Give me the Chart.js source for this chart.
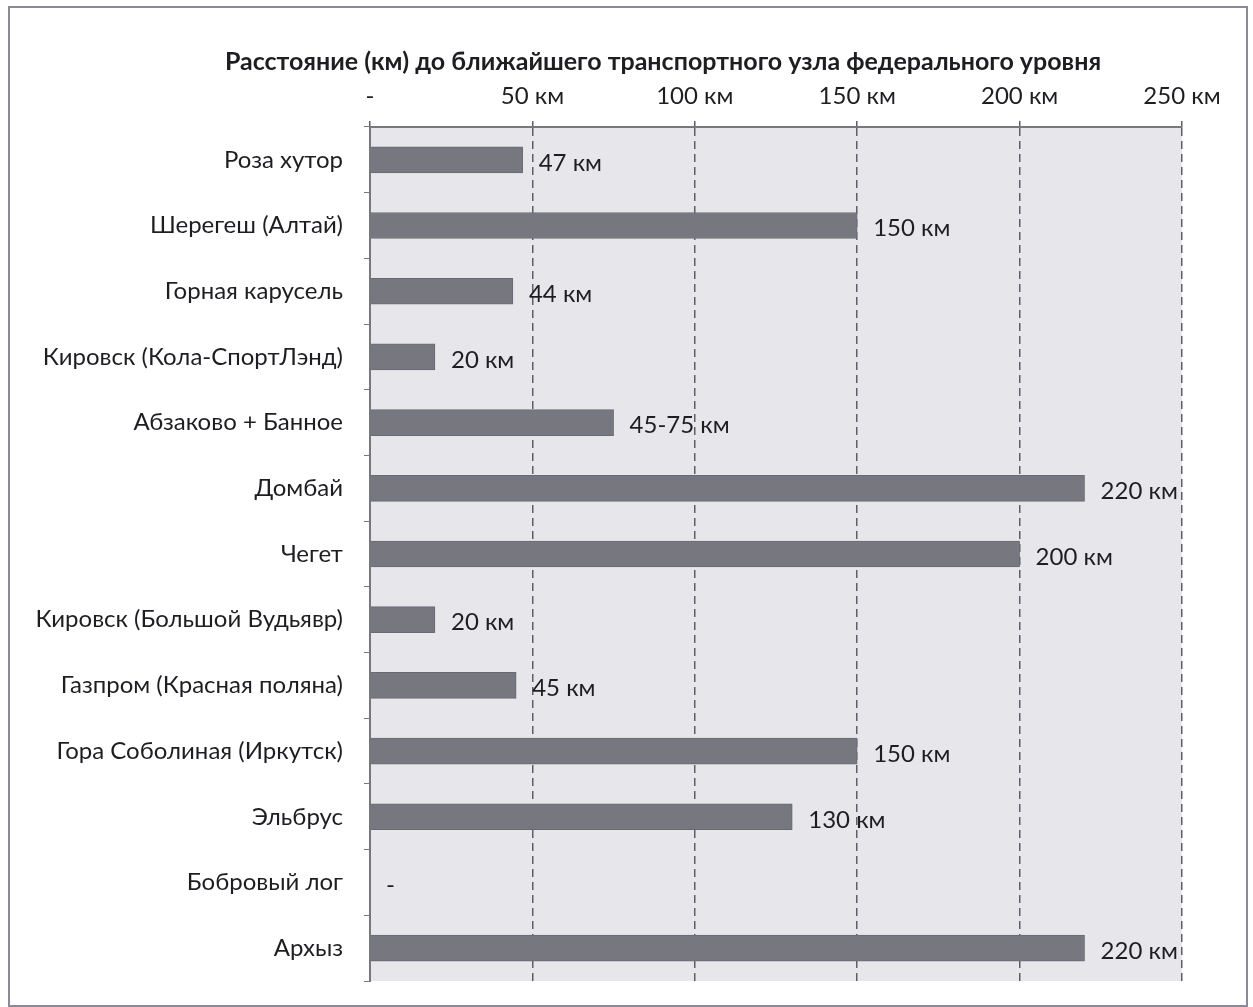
<!DOCTYPE html>
<html>
<head>
<meta charset="utf-8">
<script src="https://cdn.jsdelivr.net/npm/chart.js@4.4.0/dist/chart.umd.min.js"></script>
<style>
  body { margin: 0; background: #fff; }
  #wrap { position: relative; width: 1253px; height: 1007px; }
  #frame { position: absolute; left: 8px; top: 6px; width: 1236px; height: 997px;
           border: 2px solid #8a8a96; pointer-events: none; }
</style>
</head>
<body>
<div id="wrap">
  <canvas id="grafico" width="1253" height="1007"></canvas>
  <div id="frame"></div>
</div>
<script>
const kurorty = [
  'Роза хутор', 'Шерегеш (Алтай)', 'Горная карусель', 'Кировск (Кола-СпортЛэнд)',
  'Абзаково + Банное', 'Домбай', 'Чегет', 'Кировск (Большой Вудьявр)',
  'Газпром (Красная поляна)', 'Гора Соболиная (Иркутск)', 'Эльбрус', 'Бобровый лог', 'Архыз'
]
const rasstoyanie = [47, 150, 44, 20, 75, 220, 200, 20, 45, 150, 130, 0, 220]
const podpisi = ['47 км', '150 км', '44 км', '20 км', '45-75 км', '220 км', '200 км',
  '20 км', '45 км', '150 км', '130 км', '-', '220 км']
const zagolovok = 'Расстояние (км) до ближайшего транспортного узла федерального уровня'
const shagOsi = 50
const maxOsi = 250

const shrift = 'Lato, "Open Sans", sans-serif'

// фон области графика
const fonPlugin = {
  id: 'fon',
  beforeDraw(chart) {
    const a = chart.chartArea
    const ctx = chart.ctx
    ctx.save()
    ctx.fillStyle = '#e7e7eb'
    ctx.fillRect(a.left, a.top, a.right - a.left, a.bottom - a.top)
    ctx.restore()
  }
}

// заголовок (сдвинут вправо, как в оригинале)
const zagolovokPlugin = {
  id: 'zagolovok',
  afterDraw(chart) {
    const ctx = chart.ctx
    ctx.save()
    ctx.font = 'bold 25px ' + shrift
    ctx.fillStyle = '#1e1e22'
    ctx.textAlign = 'center'
    ctx.textBaseline = 'middle'
    ctx.fillText(zagolovok, 663, 62)
    ctx.restore()
  }
}

// подписи значений справа от столбцов
const podpisiPlugin = {
  id: 'podpisi',
  afterDatasetsDraw(chart) {
    const ctx = chart.ctx
    const meta = chart.getDatasetMeta(0)
    ctx.save()
    ctx.font = '24px ' + shrift
    ctx.fillStyle = '#1e1e22'
    ctx.textBaseline = 'middle'
    ctx.textAlign = 'left'
    meta.data.forEach((bar, i) => {
      ctx.fillText(podpisi[i], bar.x + 16, bar.y + 3)
    })
    ctx.restore()
  }
}

const ctx = document.getElementById('grafico')

new Chart(ctx, {
  type: 'bar',
  data: {
    labels: kurorty,
    datasets: [
      {
        label: 'Расстояние',
        data: rasstoyanie,
        backgroundColor: '#77777f',
        borderColor: '#6a6a74',
        borderWidth: 1,
        barThickness: 26,
      },
    ],
  },
  options: {
    indexAxis: 'y',
    responsive: false,
    animation: false,
    layout: { padding: { left: 0, right: 71, top: 77, bottom: 26 } },
    plugins: {
      legend: { display: false },
      tooltip: { enabled: false },
      title: { display: false },
    },
    scales: {
      x: {
        position: 'top',
        min: 0,
        max: maxOsi,
        afterFit: (s) => { s.height = 50 },
        ticks: {
          stepSize: shagOsi,
          padding: 10,
          color: '#1e1e22',
          font: { family: shrift, size: 24 },
          callback: (v) => v === 0 ? '-' : v + ' км',
        },
        grid: {
          color: '#5e5e66',
          lineWidth: 1.5,
          tickLength: 6,
          tickBorderDash: [],
        },
        border: { display: true, color: '#77777f', width: 2, dash: [8, 5] },
      },
      y: {
        afterFit: (s) => {
          s.width = 370
          s.paddingTop = 0
          s.paddingBottom = 0
        },
        ticks: {
          padding: 21,
          color: '#1e1e22',
          font: { family: shrift, size: 24 },
        },
        grid: {
          drawOnChartArea: false,
          color: '#77777f',
          tickLength: 6,
        },
        border: { display: true, color: '#77777f', width: 2 },
      },
    },
  },
  plugins: [fonPlugin, podpisiPlugin, zagolovokPlugin],
})
</script>
</body>
</html>
